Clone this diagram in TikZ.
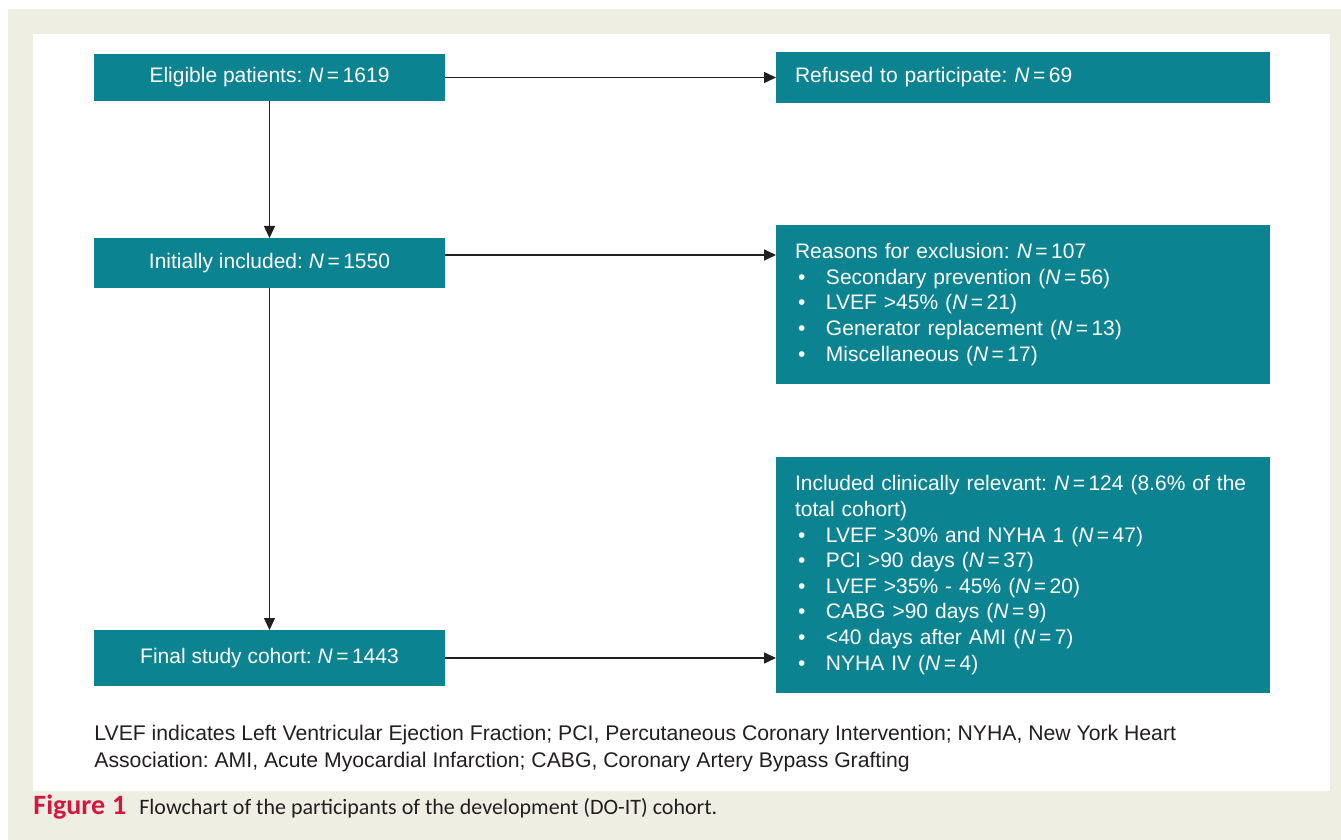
\documentclass[tikz,border=0pt]{standalone}
\usepackage{fontspec}
\setmainfont{Liberation Sans}
\newfontfamily\capfont{Carlito}
\usetikzlibrary{arrows.meta}

\definecolor{boxteal}{HTML}{0B8391}
\definecolor{panelbeige}{HTML}{EFEEE3}
\definecolor{figred}{HTML}{D5173F}
\definecolor{inkgray}{HTML}{231F20}

\newcommand{\bul}{\makebox[15.5pt][l]{\hspace{1.5pt}\textbullet}}
\newcommand{\nn}{\textit{N}\,=\,}
\frenchspacing

\begin{document}
\begin{tikzpicture}[
        x=0.5pt, y=-0.5pt,
        font=\fontsize{10.5}{12.8}\selectfont,
        box/.style={rectangle, fill=boxteal, text=white, inner sep=0pt, outer sep=0pt, minimum width=175.5pt, align=center},
        listbox/.style={rectangle, fill=boxteal, text=white, inner xsep=9.5pt, inner ysep=0pt, outer sep=0pt, minimum width=247pt, text width=228pt, align=left},
        flow/.style={draw=inkgray, line width=0.75pt, -{Triangle[length=6pt, width=5.5pt]}}
    ]

        % background and white panel
        \useasboundingbox (0,0) rectangle (1341,840);
        \fill[panelbeige] (8,9) rectangle (1341,840);
        \fill[white] (33,34) rectangle (1330,791);

        % left column
        \node[box, minimum height=23.5pt] (eligible) at (269.5,77.5) {Eligible patients: \nn1619};
        \node[box, minimum height=25pt] (initial) at (269.5,263) {Initially included: \nn1550};
        \node[box, minimum height=28pt] (final) at (269.5,658) {Final study cohort: \nn1443};

        % right column
        \node[listbox, minimum height=25.5pt] (refused) at (1023,77.5) {Refused to participate: \nn69};
        \node[listbox, minimum height=79.5pt] (reasons) at (1023,304.5) {Reasons for exclusion: \nn107\\
            \bul Secondary prevention (\nn56)\\
            \bul LVEF >45\% (\nn21)\\
            \bul Generator replacement (\nn13)\\
            \bul Miscellaneous (\nn17)};
        \node[listbox, minimum height=118pt] (included) at (1023,575) {Included clinically relevant: \nn124 (8.6\% of the\\
            total cohort)\\
            \bul LVEF >30\% and NYHA 1 (\nn47)\\
            \bul PCI >90 days (\nn37)\\
            \bul LVEF >35\% - 45\% (\nn20)\\
            \bul CABG >90 days (\nn9)\\
            \bul <40 days after AMI (\nn7)\\
            \bul NYHA IV (\nn4)};

        % arrows
        \draw[flow] (eligible) -- (initial);
        \draw[flow] (initial) -- (final);
        \draw[flow] (eligible.east) -- (eligible.east -| refused.west);
        \draw[flow] ([yshift=4pt]initial.east) -- ([yshift=4pt]initial.east -| reasons.west);
        \draw[flow] (final.east) -- (final.east -| included.west);

        % abbreviations and caption
        \node[anchor=north west, align=left, inner sep=0pt, text=inkgray, font=\fontsize{10.6}{13.5}\selectfont] (abbrev) at (94,725) {LVEF indicates Left Ventricular Ejection Fraction; PCI, Percutaneous Coronary Intervention; NYHA, New York Heart\\
            Association: AMI, Acute Myocardial Infarction; CABG, Coronary Artery Bypass Grafting};
        \node[anchor=base west, inner sep=0pt, font=\capfont\fontsize{11}{13}\selectfont] (caption) at (33,814) {\textcolor{figred}{\fontsize{14}{15}\selectfont\textbf{Figure\hspace{3.5pt}1}}\hspace{6.5pt}\textcolor{inkgray}{Flowchart of the participants of the development (DO-IT) cohort.}};

    \end{tikzpicture}
\end{document}
